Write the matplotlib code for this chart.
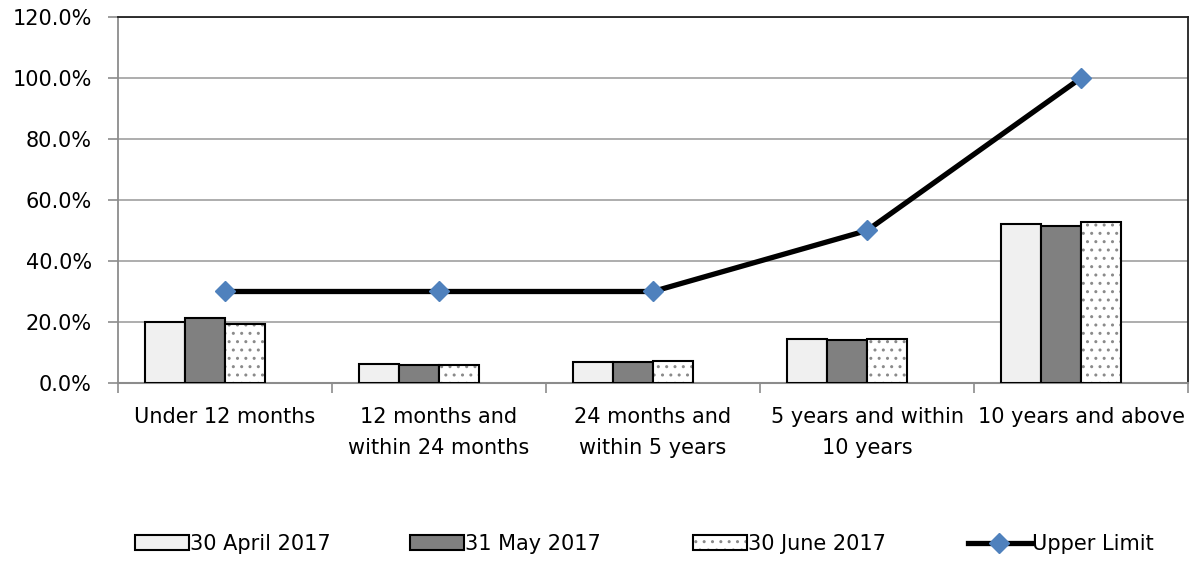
import matplotlib
matplotlib.use("Agg")
import matplotlib.pyplot as plt
import numpy as np
from matplotlib.ticker import FuncFormatter

categories = ["Under 12 months", "12 months and\nwithin 24 months", "24 months and\nwithin 5 years",
              "5 years and within\n10 years", "10 years and above"]
apr_2017 = [20.1, 6.2, 6.9, 14.4, 52.2]
may_2017 = [21.4, 6.0, 6.9, 14.1, 51.6]
jun_2017 = [19.4, 6.0, 7.2, 14.4, 52.7]
upper_limit = [30, 30, 30, 50, 100]
series_names = ["30 April 2017", "31 May 2017", "30 June 2017", "Upper Limit"]

plt.rcParams['font.family'] = ['DejaVu Sans']
plt.rcParams['hatch.linewidth'] = 1.0

FS = 15

fig = plt.figure(figsize=(11.91, 5.62), dpi=100)
ax = fig.add_axes([0.0991, 0.3185, 0.8984, 0.6513])

x = np.arange(len(categories))
w = 0.187
# four slots per category; the fourth slot is left empty (as in the source)
b1 = ax.bar(x - 1.5 * w, apr_2017, w, color='#f0f0f0', edgecolor='black', linewidth=1.5, zorder=3)
b2 = ax.bar(x - 0.5 * w, may_2017, w, color='#808080', edgecolor='black', linewidth=1.5, zorder=3)
# dotted series: gray hatch layer, then black outline
ax.bar(x + 0.5 * w, jun_2017, w, color='white', edgecolor='#8a8a8a', linewidth=0, hatch='..', zorder=3)
ax.bar(x + 0.5 * w, jun_2017, w, fill=False, edgecolor='black', linewidth=1.5, zorder=3.1)
l1, = ax.plot(x, upper_limit, color='black', linewidth=3.8, marker='D', markersize=10,
              markerfacecolor='#4f81bd', markeredgecolor='#4f81bd', zorder=4)

# legend handle for the dotted series
from matplotlib.patches import Rectangle
from matplotlib.legend_handler import HandlerBase


class DottedHandler(HandlerBase):
    def create_artists(self, legend, orig_handle, xdescent, ydescent, width, height, fontsize, trans):
        r1 = Rectangle((-xdescent, -ydescent), width, height, facecolor='white', edgecolor='#8a8a8a',
                       linewidth=0, hatch='..', transform=trans)
        r2 = Rectangle((-xdescent, -ydescent), width, height, fill=False, edgecolor='black',
                       linewidth=1.5, transform=trans)
        return [r1, r2]


b3 = Rectangle((0, 0), 1, 1)

ax.set_xlim(-0.5, len(categories) - 0.5)
ax.set_ylim(0, 120)
ax.set_yticks(np.arange(0, 121, 20))
ax.yaxis.set_major_formatter(FuncFormatter(lambda v, p: f"{v:.1f}%"))
ax.grid(axis='y', color='#a0a0a0', linewidth=1.2, zorder=0)
ax.set_axisbelow(True)

ax.set_xticks(x)
ax.set_xticklabels(categories, fontsize=FS, linespacing=1.7)
ax.set_xticks(np.arange(-0.5, len(categories), 1), minor=True)
ax.tick_params(axis='x', which='major', length=0, pad=17)
ax.tick_params(axis='x', which='minor', length=7, color='#8c8c8c', width=1.2)
ax.tick_params(axis='y', labelsize=FS, length=7, color='#8c8c8c', width=1.2, pad=12)

ax.spines['top'].set_color('#202020')
ax.spines['top'].set_linewidth(1.3)
ax.spines['right'].set_color('#202020')
ax.spines['right'].set_linewidth(1.3)
ax.spines['left'].set_color('#8c8c8c')
ax.spines['left'].set_linewidth(1.3)
ax.spines['bottom'].set_color('#8c8c8c')
ax.spines['bottom'].set_linewidth(1.5)

handles = [b1, b2, b3, l1]
xpos = [135, 410, 693, 968]
hlen = [2.6, 2.6, 2.6, 3.0]
for h, lab, xp, hl in zip(handles, series_names, xpos, hlen):
    fig.legend([h], [lab], loc='center left', bbox_to_anchor=(xp / 1191, 0.032), frameon=False,
               fontsize=FS, handlelength=hl, handletextpad=0.05, handleheight=0.75,
               borderpad=0, borderaxespad=0, handler_map={Rectangle: DottedHandler()} if h is b3 else None)

fig.savefig("out.png", dpi=100)
